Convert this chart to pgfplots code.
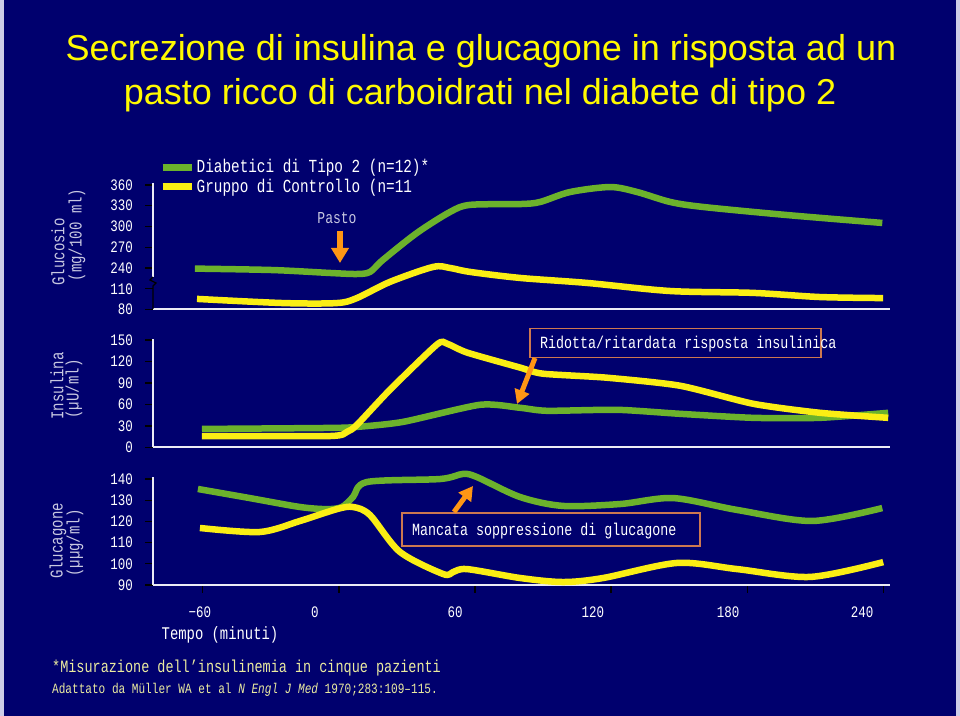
\documentclass[border=0pt]{standalone}
\usepackage{fontspec}
\setmainfont{Liberation Sans}
\newfontfamily\simfont[FakeStretch=0.78]{Liberation Mono}
\usepackage{pgfplots}
\pgfplotsset{compat=1.18}
\usetikzlibrary{arrows.meta}
\definecolor{bgnavy}{RGB}{0,0,110}
\definecolor{edge}{RGB}{205,205,232}
\definecolor{cgreen}{RGB}{108,178,44}
\definecolor{cyellow}{RGB}{250,238,20}
\definecolor{ttl}{RGB}{255,250,0}
\definecolor{labgray}{RGB}{200,200,225}
\definecolor{axw}{RGB}{235,235,245}
\definecolor{arrowor}{RGB}{255,150,20}
\definecolor{boxedge}{RGB}{205,120,80}
\definecolor{noteyel}{RGB}{235,235,160}
\newcommand{\fs}[1]{\simfont\fontsize{#1bp}{#1bp}\selectfont}
\pgfplotsset{
  panel/.style={
    scale only axis, width=737bp, xmin=-82, xmax=243, clip=false,
    axis x line=bottom, axis y line=left,
    axis line style={-, draw=axw, line width=2bp},
    tick align=outside, major tick length=8bp,
    tick style={black, line width=1.2bp},
    /pgf/number format/assume math mode=true,
    ticklabel style={font=\fs{16}, text=white},
    yticklabel style={anchor=east, inner sep=0pt, xshift=-12bp},
    xtick=\empty,
  },
  gline/.style={cgreen, line width=6.5bp, smooth, tension=0.5},
  yline/.style={cyellow, line width=6.5bp, smooth, tension=0.5},
}
\begin{document}
\begin{tikzpicture}[x=1bp,y=1bp]
\fill[edge] (0,0) rectangle (960,716);
\fill[bgnavy] (4,0) rectangle (956,716);
% title
\node[anchor=base, text=ttl, font=\fontsize{36bp}{36bp}\selectfont] at (481,716-61) {Secrezione di insulina e glucagone in risposta ad un};
\node[anchor=base, text=ttl, font=\fontsize{36bp}{36bp}\selectfont] at (480,716-105) {pasto ricco di carboidrati nel diabete di tipo 2};

% ---------------- Glucose panel ----------------
\begin{axis}[panel, at={(153bp,406.5bp)}, anchor=south west,
  height=126.6bp, ymin=0, ymax=6.1,
  ytick={0,1,2,3,4,5,6}, yticklabels={80,110,240,270,300,330,360},
  y axis line style={draw=none},
  legend style={draw=none, fill=none, at={(axis description cs:0,1)}, anchor=north west,
    xshift=6bp, yshift=25bp, inner sep=0pt, row sep=2bp,
    nodes={inner sep=1.5bp, text=white, font=\fs{18.4}}},
  legend cell align=left,
  legend image code/.code={\draw[line width=7bp] (0bp,0bp) -- (29bp,0bp);},
]
\addplot[gline] coordinates {
(-63.5,1.97) (-29.1,1.90) (-4.0,1.76) (7.9,1.71) (13.7,1.81) (19.4,2.39)
(34.4,3.69) (49.0,4.70) (57.8,5.04) (79.9,5.08) (88.7,5.18) (101.9,5.66)
(119.6,5.90) (131.5,5.66) (146.1,5.18) (160.6,4.94) (197.7,4.55) (239.6,4.17)};
\addlegendentry{Diabetici di Tipo 2 (n=12)*}
\addplot[yline] coordinates {
(-62.6,0.51) (-24.7,0.31) (-0.9,0.31) (7.9,0.55) (22.5,1.33) (41.5,2.05)
(49.0,2.00) (57.8,1.81) (79.9,1.52) (109.4,1.28) (146.1,0.89) (182.7,0.80)
(212.2,0.60) (240.0,0.55)};
\addlegendentry{Gruppo di Controllo (n=11}
\draw[axw, line width=2bp] (axis cs:-82,6.1) -- (axis cs:-82,1.57);
\end{axis}
% axis break marks
\draw[black, line width=1.3bp] (153,716-277) -- (150,716-280) -- (156,716-283) -- (153,716-286) -- (153,716-309);

% ---------------- Insulin panel ----------------
\begin{axis}[panel, at={(153bp,268.5bp)}, anchor=south west,
  height=108.9bp, ymin=0, ymax=152,
  ytick={0,30,60,90,120,150},
]
\addplot[gline, tension=0.4] coordinates {
(-60.4,25.9) (-4,27.3) (7.9,28.7) (28.2,35.7) (62.2,59.6) (79.9,55.4)
(91.8,51.2) (122.7,52.6) (150.4,47) (182.7,41.4) (212.2,41.4) (242.2,48.4)};
\addplot[yline, tension=0.4] coordinates {
(-60.4,16) (-4,16) (3.5,21.7) (7.9,31.5) (22.5,80.6) (43.2,143.7) (47.6,145)
(56.5,132.5) (79.9,111.5) (90,103) (118.2,97.4) (150.4,86.2) (182.7,61)
(212.2,48.4) (242.2,41.4)};
\end{axis}

% ---------------- Glucagon panel ----------------
\begin{axis}[panel, at={(153bp,131bp)}, anchor=south west,
  height=108.1bp, ymin=90, ymax=141,
  ytick={90,100,110,120,130,140},
  xtick={-60,0,60,120,180,240}, xticklabels={},
  extra x ticks={-61.3,-10.6,51.2,112,171.6,230.7},
  extra x tick labels={−60,0,60,120,180,240},
  extra x tick style={major tick length=0pt,
     xticklabel style={anchor=center, yshift=-27bp}},
]
\addplot[gline] coordinates {
(-62.2,135.3) (-39.3,131.0) (-17.2,126.8) (-5.3,125.8) (1.3,126.8) (6.2,131.5)
(12.4,138.6) (44.6,140.0) (54.7,142.4) (60.9,140.9) (79.9,131.5) (98.8,127.3)
(124.0,128.2) (147.4,131.0) (175.6,125.4) (208.7,120.2) (239.6,126.3)};
\addplot[yline] coordinates {
(-61.3,116.9) (-34.9,115.0) (-17.2,120.2) (-0.9,125.8) (6.2,126.8) (13.7,123.0)
(26.9,105.6) (45.9,95.2) (50.3,96.1) (56.5,97.5) (79.9,93.3) (98.8,91.4)
(116.5,93.3) (149.1,100.4) (175.6,97.5) (207.8,93.8) (240.0,100.8)};
\end{axis}

% y-axis titles
\node[rotate=90, text=labgray, font=\fs{18}] at (58,716-252) {Glucosio};
\node[rotate=90, text=labgray, font=\fs{18}] at (77,716-235) {(mg/100 ml)};
\node[rotate=90, text=labgray, font=\fs{18}] at (57,716-386) {Insulina};
\node[rotate=90, text=labgray, font=\fs{18}] at (74,716-389) {(µU/ml)};
\node[rotate=90, text=labgray, font=\fs{18}] at (58,716-541) {Glucagone};
\node[rotate=90, text=labgray, font=\fs{18}] at (75,716-543) {(µµg/ml)};

% Pasto annotation
\node[text=labgray, font=\fs{16.7}] at (337,716-218) {Pasto};
\draw[arrowor, line width=6bp, -{Triangle[width=17bp,length=15bp]}] (340,716-231) -- (340,716-263);

% Ridotta box
\draw[boxedge, line width=1.5bp] (530,716-328.5) rectangle (821,716-357.7);
\node[anchor=west, inner sep=0pt, text=white, font=\fs{17.1}] at (540,716-344) {Ridotta/ritardata risposta insulinica};
\draw[arrowor, line width=5bp, -{Triangle[width=15bp,length=14bp]}] (535,716-358) -- (517,716-404);

% Mancata box
\draw[boxedge, line width=1.5bp] (402,716-513) rectangle (700,716-546);
\node[anchor=west, inner sep=0pt, text=white, font=\fs{17.1}] at (412,716-531) {Mancata soppressione di glucagone};
\draw[arrowor, line width=5bp, -{Triangle[width=15bp,length=14bp]}] (454,716-512) -- (473,716-486);

% x label and notes
\node[text=white, font=\fs{17.8}] at (220,716-635) {Tempo (minuti)};
\node[anchor=west, inner sep=0pt, text=noteyel, font=\fs{17.3}] at (52,716-668) {*Misurazione dell’insulinemia in cinque pazienti};
\node[anchor=west, inner sep=0pt, text=noteyel, font=\fs{14.2}] at (52,716-690) {Adattato da Müller WA et al \textit{N Engl J Med} 1970;283:109–115.};
\end{tikzpicture}
\end{document}
